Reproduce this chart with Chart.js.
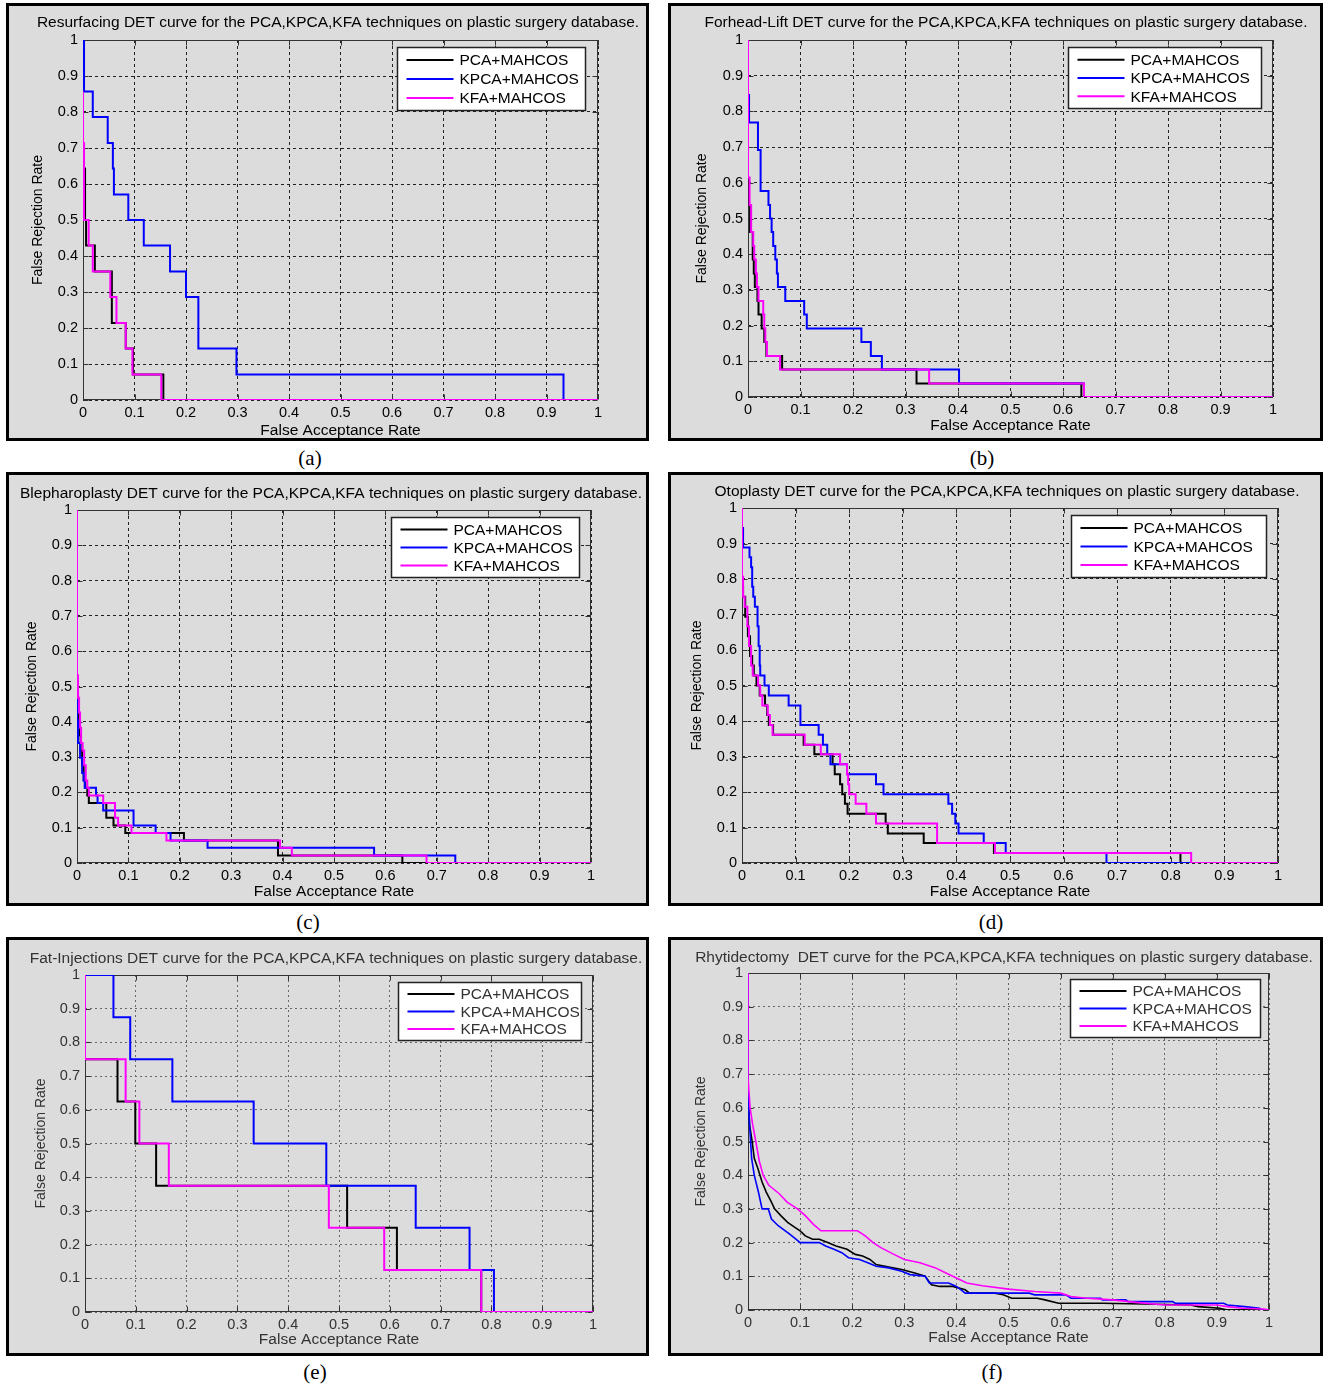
<!DOCTYPE html>
<html>
<head>
<meta charset="utf-8">
<script src="https://cdn.jsdelivr.net/npm/chart.js@4.4.0/dist/chart.umd.min.js"></script>
<style>
  body { margin: 0; background: #fff; width: 1323px; height: 1385px; position: relative; overflow: hidden; }
  .panel { position: absolute; box-sizing: border-box; border: 3px solid #000; background: #dcdcdc; }
  .panel canvas { position: absolute; left: 0; top: 0; }
  .cap { position: absolute; font-family: "Liberation Serif", "Times New Roman", serif; font-size: 21px; color: #000; transform: translate(-50%, -50%); }
</style>
</head>
<body>
<script>
// tick labels shared by both axes
const rateTicks = ['0', '0.1', '0.2', '0.3', '0.4', '0.5', '0.6', '0.7', '0.8', '0.9', '1'];
const methodNames = ['PCA+MAHCOS', 'KPCA+MAHCOS', 'KFA+MAHCOS'];
const surgeryTitles = [
  'Resurfacing DET curve for the PCA,KPCA,KFA techniques on plastic surgery database.',
  'Forhead-Lift DET curve for the PCA,KPCA,KFA techniques on plastic surgery database.',
  'Blepharoplasty DET curve for the PCA,KPCA,KFA techniques on plastic surgery database.',
  'Otoplasty DET curve for the PCA,KPCA,KFA techniques on plastic surgery database.',
  'Fat-Injections DET curve for the PCA,KPCA,KFA techniques on plastic surgery database.',
  'Rhytidectomy  DET curve for the PCA,KPCA,KFA techniques on plastic surgery database.'
];
const captions = ['(a)', '(b)', '(c)', '(d)', '(e)', '(f)'];

// [FAR, FRR] pairs
const resurfacingPCA = [[0,1],[0.004,0.643],[0.006,0.5],[0.023,0.429],[0.056,0.357],[0.083,0.214],[0.097,0.143],[0.156,0.071],[1,0]];
const resurfacingKPCA = [[0.002,1],[0.019,0.857],[0.048,0.786],[0.058,0.714],[0.06,0.643],[0.088,0.571],[0.118,0.5],[0.169,0.429],[0.2,0.357],[0.224,0.286],[0.298,0.143],[0.933,0.071],[1,0]];
const resurfacingKFA = [[0,0.857],[0.002,0.714],[0.011,0.5],[0.019,0.429],[0.053,0.357],[0.065,0.286],[0.083,0.214],[0.096,0.143],[0.152,0.071],[1,0]];

const foreheadPCA = [[0,1],[0.004,0.538],[0.009,0.462],[0.011,0.385],[0.013,0.346],[0.018,0.308],[0.02,0.269],[0.026,0.231],[0.031,0.192],[0.035,0.154],[0.065,0.115],[0.321,0.077],[0.635,0.038],[1,0]];
const foreheadKPCA = [[0,1],[0.002,0.846],[0.019,0.769],[0.024,0.692],[0.039,0.577],[0.042,0.538],[0.045,0.5],[0.048,0.462],[0.052,0.423],[0.055,0.385],[0.057,0.346],[0.071,0.308],[0.107,0.269],[0.112,0.231],[0.216,0.192],[0.234,0.154],[0.255,0.115],[0.402,0.077],[0.64,0.038],[1,0]];
const foreheadKFA = [[0,1],[0.003,0.615],[0.006,0.538],[0.01,0.462],[0.012,0.423],[0.015,0.385],[0.017,0.346],[0.02,0.308],[0.029,0.269],[0.031,0.231],[0.033,0.192],[0.036,0.154],[0.061,0.115],[0.345,0.077],[0.64,0.038],[1,0]];

const blepharoPCA = [[0,1],[0.002,0.489],[0.004,0.426],[0.007,0.362],[0.01,0.319],[0.013,0.277],[0.016,0.234],[0.02,0.213],[0.023,0.191],[0.057,0.17],[0.071,0.128],[0.094,0.106],[0.208,0.085],[0.391,0.064],[0.633,0.021],[1,0]];
const blepharoKPCA = [[0,1],[0.002,0.404],[0.006,0.34],[0.01,0.298],[0.013,0.255],[0.015,0.234],[0.037,0.213],[0.04,0.191],[0.051,0.17],[0.11,0.149],[0.153,0.106],[0.182,0.085],[0.254,0.064],[0.578,0.043],[0.736,0.021],[1,0]];
const blepharoKFA = [[0,1],[0.002,0.532],[0.004,0.468],[0.006,0.426],[0.008,0.383],[0.011,0.34],[0.014,0.319],[0.017,0.277],[0.02,0.234],[0.023,0.213],[0.051,0.191],[0.074,0.17],[0.08,0.128],[0.106,0.106],[0.174,0.085],[0.395,0.064],[0.418,0.043],[0.68,0.021],[1,0]];

const otoplastyPCA = [[0,1],[0.002,0.778],[0.006,0.75],[0.011,0.694],[0.015,0.639],[0.019,0.583],[0.022,0.556],[0.027,0.528],[0.033,0.5],[0.043,0.472],[0.047,0.444],[0.05,0.417],[0.058,0.389],[0.115,0.361],[0.135,0.333],[0.169,0.306],[0.173,0.278],[0.183,0.25],[0.187,0.222],[0.192,0.194],[0.197,0.167],[0.268,0.139],[0.272,0.111],[0.339,0.083],[0.47,0.056],[0.818,0.028],[1,0]];
const otoplastyKPCA = [[0,1],[0.002,0.944],[0.014,0.889],[0.017,0.861],[0.019,0.833],[0.021,0.778],[0.024,0.75],[0.029,0.722],[0.031,0.667],[0.033,0.611],[0.034,0.556],[0.042,0.528],[0.05,0.5],[0.087,0.472],[0.109,0.444],[0.143,0.389],[0.151,0.361],[0.159,0.333],[0.165,0.306],[0.196,0.278],[0.25,0.25],[0.264,0.222],[0.385,0.194],[0.392,0.167],[0.398,0.139],[0.404,0.111],[0.451,0.083],[0.492,0.056],[0.68,0.028],[1,0]];
const otoplastyKFA = [[0,1],[0.002,0.806],[0.005,0.75],[0.01,0.722],[0.013,0.667],[0.017,0.611],[0.02,0.556],[0.03,0.528],[0.034,0.5],[0.038,0.472],[0.048,0.444],[0.052,0.417],[0.057,0.389],[0.117,0.361],[0.147,0.333],[0.183,0.306],[0.196,0.278],[0.198,0.25],[0.2,0.222],[0.212,0.194],[0.232,0.167],[0.25,0.139],[0.364,0.111],[0.472,0.056],[0.838,0.028],[1,0]];

const fatPCA = [[0,1],[0.064,0.75],[0.099,0.625],[0.14,0.5],[0.516,0.375],[0.614,0.25],[0.78,0.125],[1,0]];
const fatKPCA = [[0,1],[0.056,1],[0.089,0.875],[0.172,0.75],[0.332,0.625],[0.475,0.5],[0.651,0.375],[0.757,0.25],[0.805,0.125],[1,0]];
const fatKFA = [[0,1],[0.08,0.75],[0.107,0.625],[0.165,0.5],[0.48,0.375],[0.589,0.25],[0.78,0.125],[1,0]];

const rhytidPCA = [[0,1],[0,0.65],[0.003,0.55],[0.008,0.5],[0.012,0.45],[0.019,0.42],[0.027,0.38],[0.035,0.35],[0.045,0.32],[0.051,0.3],[0.063,0.28],[0.076,0.26],[0.09,0.245],[0.1,0.235],[0.11,0.22],[0.124,0.21],[0.137,0.21],[0.153,0.2],[0.169,0.19],[0.19,0.18],[0.206,0.165],[0.22,0.16],[0.234,0.15],[0.246,0.135],[0.263,0.13],[0.295,0.12],[0.32,0.11],[0.34,0.1],[0.352,0.075],[0.368,0.07],[0.393,0.07],[0.417,0.06],[0.425,0.05],[0.474,0.05],[0.49,0.045],[0.506,0.035],[0.555,0.035],[0.57,0.03],[0.596,0.02],[0.68,0.02],[0.76,0.018],[0.85,0.015],[0.864,0.01],[0.905,0.005],[0.92,0],[1,0]];
const rhytidKPCA = [[0,1],[0,0.65],[0.003,0.55],[0.007,0.45],[0.012,0.4],[0.02,0.35],[0.027,0.3],[0.039,0.3],[0.045,0.27],[0.058,0.25],[0.067,0.24],[0.08,0.225],[0.092,0.21],[0.1,0.2],[0.137,0.2],[0.149,0.19],[0.165,0.18],[0.18,0.17],[0.193,0.155],[0.214,0.15],[0.23,0.14],[0.246,0.13],[0.27,0.125],[0.295,0.115],[0.311,0.105],[0.34,0.1],[0.348,0.08],[0.385,0.08],[0.4,0.07],[0.409,0.06],[0.417,0.05],[0.54,0.05],[0.55,0.045],[0.61,0.045],[0.62,0.035],[0.677,0.035],[0.68,0.03],[0.725,0.03],[0.73,0.025],[0.815,0.025],[0.82,0.02],[0.913,0.02],[0.92,0.015],[0.953,0.01],[0.982,0.005],[0.985,0],[1,0]];
const rhytidKFA = [[0,1],[0,0.69],[0.004,0.6],[0.009,0.55],[0.015,0.5],[0.022,0.44],[0.029,0.4],[0.04,0.37],[0.06,0.345],[0.075,0.32],[0.095,0.3],[0.11,0.28],[0.125,0.255],[0.14,0.235],[0.21,0.235],[0.225,0.22],[0.24,0.2],[0.255,0.185],[0.28,0.165],[0.3,0.15],[0.33,0.14],[0.36,0.125],[0.38,0.11],[0.4,0.095],[0.42,0.08],[0.45,0.072],[0.5,0.062],[0.55,0.055],[0.6,0.05],[0.62,0.04],[0.65,0.035],[0.7,0.03],[0.75,0.022],[0.8,0.015],[0.9,0.015],[0.92,0.01],[0.95,0.005],[0.99,0.003],[1,0]];

const lineColors = ['#000000', '#0000ff', '#ff00ff'];
const FONT = '"Liberation Sans", Arial, sans-serif';

// page geometry of each panel: outer box, plot area, title centre, axis title positions, legend box
const panels = [
  { box: [6, 3, 649, 441], plot: [83, 40, 598, 400], title: [338, 23], yTitleX: 38, xTitleY: 431, legend: [188, 63, 13, 7], cap: [310, 458], series: [resurfacingPCA, resurfacingKPCA, resurfacingKFA] },
  { box: [668, 3, 1323, 441], plot: [748, 40, 1273, 397], title: [1006, 23], yTitleX: 702, xTitleY: 426, legend: [193, 61, 12, 7], cap: [982, 458], series: [foreheadPCA, foreheadKPCA, foreheadKFA] },
  { box: [6, 472, 649, 906], plot: [77, 510, 591, 863], title: [331, 494], yTitleX: 32, xTitleY: 892, legend: [188, 60, 12, 7], cap: [308, 922], series: [blepharoPCA, blepharoKPCA, blepharoKFA] },
  { box: [668, 472, 1323, 906], plot: [742, 508, 1278, 863], title: [1007, 492], yTitleX: 697, xTitleY: 892, legend: [195, 62, 12, 7], cap: [991, 922], series: [otoplastyPCA, otoplastyKPCA, otoplastyKFA] },
  { box: [6, 937, 649, 1356], plot: [85, 975, 593, 1312], title: [336, 959], yTitleX: 41, xTitleY: 1340, legend: [183, 58, 12, 7], cap: [315, 1372], series: [fatPCA, fatKPCA, fatKFA], soft: true },
  { box: [668, 937, 1323, 1356], plot: [748, 973, 1269, 1310], title: [1004, 958], yTitleX: 701, xTitleY: 1338, legend: [190, 58, 9, 6], cap: [992, 1372], series: [rhytidPCA, rhytidKPCA, rhytidKFA], soft: true, smooth: true }
];

function makePanel(p, idx) {
  const B = 3;
  const div = document.createElement('div');
  div.className = 'panel';
  div.style.left = p.box[0] + 'px';
  div.style.top = p.box[1] + 'px';
  div.style.width = (p.box[2] - p.box[0]) + 'px';
  div.style.height = (p.box[3] - p.box[1]) + 'px';
  document.body.appendChild(div);

  const ox = p.box[0] + B, oy = p.box[1] + B;
  const cw = p.box[2] - p.box[0] - 2 * B;
  const ch = p.box[3] - p.box[1] - 2 * B;
  const canvas = document.createElement('canvas');
  canvas.width = cw; canvas.height = ch;
  canvas.style.width = cw + 'px'; canvas.style.height = ch + 'px';
  div.appendChild(canvas);

  const cap = document.createElement('div');
  cap.className = 'cap';
  cap.textContent = captions[idx];
  cap.style.left = p.cap[0] + 'px';
  cap.style.top = p.cap[1] + 'px';
  document.body.appendChild(cap);

  const plotL = p.plot[0] - ox, plotT = p.plot[1] - oy;
  const plotR = p.plot[2] - ox, plotB = p.plot[3] - oy;
  const tcx = p.title[0] - ox, tcy = p.title[1] - oy;
  const padL = Math.max(0, 2 * tcx - cw);
  const titleSize = 15.5, titleLH = titleSize * 1.2;
  const ink = p.soft ? '#333' : '#000';
  const gridColor = p.soft ? '#666' : '#222';

  const datasets = p.series.map((pts, i) => ({
    label: methodNames[i],
    data: pts.map(d => ({ x: d[0], y: d[1] })),
    borderColor: lineColors[i],
    borderWidth: p.smooth ? 1.6 : 2,
    pointRadius: 0,
    showLine: true,
    fill: false,
    stepped: p.smooth ? false : 'after',
    order: 3 - i
  }));

  // solid axes box with inward tick marks, drawn under the curves
  const framePlugin = {
    id: 'frame',
    beforeDatasetsDraw(chart) {
      const { ctx, chartArea: a, scales } = chart;
      const l = Math.round(a.left) + 0.5, t = Math.round(a.top) + 0.5;
      const r = Math.round(a.right) - 0.5, b = Math.round(a.bottom) - 0.5;
      ctx.save();
      ctx.strokeStyle = '#333';
      ctx.lineWidth = 1;
      ctx.beginPath();
      scales.x.ticks.forEach(tk => {
        const px = Math.round(scales.x.getPixelForValue(tk.value)) + 0.5;
        ctx.moveTo(px, b); ctx.lineTo(px, b - 5);
        ctx.moveTo(px, t); ctx.lineTo(px, t + 5);
      });
      scales.y.ticks.forEach(tk => {
        const py = Math.round(scales.y.getPixelForValue(tk.value)) + 0.5;
        ctx.moveTo(l, py); ctx.lineTo(l + 5, py);
        ctx.moveTo(r, py); ctx.lineTo(r - 5, py);
      });
      ctx.stroke();
      ctx.strokeRect(l, t, r - l, b - t);
      ctx.restore();
    }
  };

  // MATLAB style boxed legend in the top right corner of the axes
  const legendPlugin = {
    id: 'boxLegend',
    afterDraw(chart) {
      const { ctx, chartArea: a } = chart;
      const [w, h, gapR, gapT] = p.legend;
      const x0 = Math.round(a.right - gapR - w) + 0.5;
      const y0 = Math.round(a.top + gapT) + 0.5;
      ctx.save();
      ctx.fillStyle = '#fff';
      ctx.fillRect(x0, y0, w, h);
      ctx.strokeStyle = '#222';
      ctx.lineWidth = 1.5;
      ctx.strokeRect(x0, y0, w, h);
      ctx.font = '15.5px ' + FONT;
      ctx.textBaseline = 'middle';
      chart.data.datasets.forEach((ds, i) => {
        const y = y0 + h * 0.2 + h * 0.3 * i;
        ctx.strokeStyle = ds.borderColor;
        ctx.lineWidth = 2;
        ctx.beginPath();
        ctx.moveTo(x0 + 9, y); ctx.lineTo(x0 + 56, y);
        ctx.stroke();
        ctx.fillStyle = ink;
        ctx.fillText(ds.label, x0 + 62, y + 1);
      });
      ctx.restore();
    }
  };

  new Chart(canvas, {
    type: 'scatter',
    data: { datasets },
    plugins: [framePlugin, legendPlugin],
    options: {
      responsive: false,
      animation: false,
      events: [],
      layout: { padding: { left: padL, right: 0, top: 0, bottom: 0 } },
      plugins: {
        legend: { display: false },
        tooltip: { enabled: false },
        title: {
          display: true,
          text: surgeryTitles[idx],
          color: ink,
          font: { family: FONT, size: titleSize, weight: 'normal', lineHeight: 1.2 },
          padding: { top: tcy - titleLH / 2, bottom: plotT - tcy - titleLH / 2 }
        }
      },
      scales: {
        x: {
          type: 'linear', position: 'bottom', min: 0, max: 1,
          ticks: {
            stepSize: 0.1, autoSkip: false, maxRotation: 0, padding: 4,
            color: ink, font: { family: FONT, size: 14.5 },
            callback: (v, i) => rateTicks[i]
          },
          grid: { color: gridColor, lineWidth: 1, drawTicks: false },
          border: { display: false, dash: p.soft ? [2, 3] : [3, 3] },
          title: {
            display: true, text: 'False Acceptance Rate', color: ink,
            font: { family: FONT, size: 15.5, lineHeight: 1 },
            padding: { top: 0, bottom: ch - (p.xTitleY - oy) - 7.75 }
          },
          afterFit: s => { s.height = ch - plotB; }
        },
        y: {
          type: 'linear', position: 'left', min: 0, max: 1,
          ticks: {
            stepSize: 0.1, autoSkip: false, padding: 5,
            color: ink, font: { family: FONT, size: 14.5 },
            callback: (v, i) => rateTicks[i]
          },
          grid: { color: gridColor, lineWidth: 1, drawTicks: false },
          border: { display: false, dash: p.soft ? [2, 3] : [3, 3] },
          title: {
            display: true, text: 'False Rejection Rate', color: ink,
            font: { family: FONT, size: 14, lineHeight: 1 },
            padding: { top: (p.yTitleX - ox) - padL - 7, bottom: 0 }
          },
          afterFit: s => { s.width = plotL - padL; }
        },
        gap: {
          type: 'linear', position: 'right', display: true,
          ticks: { display: false }, grid: { display: false }, border: { display: false },
          afterFit: s => { s.width = cw - plotR; }
        }
      }
    }
  });
}

panels.forEach(makePanel);
</script>
</body>
</html>
